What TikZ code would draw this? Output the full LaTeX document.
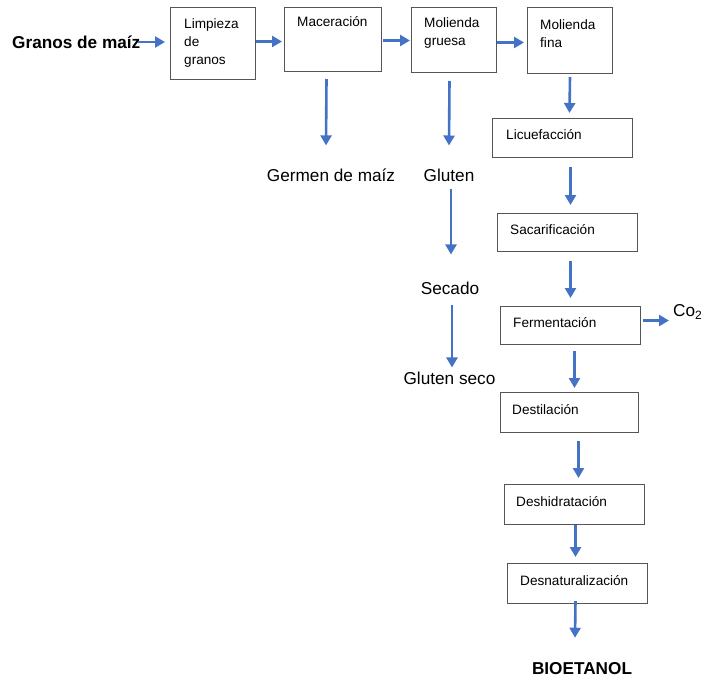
\documentclass[tikz,border=0pt]{standalone}
\usepackage{fontspec}
\setmainfont{Liberation Sans}
\usetikzlibrary{arrows.meta}
\definecolor{flowblue}{RGB}{68,114,196}
\definecolor{boxline}{RGB}{85,85,85}
\begin{document}
\begin{tikzpicture}[x=1pt,y=-1pt,
  box/.style={draw=boxline, line width=1pt, inner sep=0pt, anchor=north west},
  boxtext/.style={font=\fontsize{13.6}{18}\selectfont, anchor=west, inner sep=0pt, align=left},
  bigtext/.style={font=\fontsize{17.2}{20}\selectfont, inner sep=0pt},
  bigbold/.style={font=\bfseries\fontsize{17.2}{20}\selectfont, inner sep=0pt},
  arr/.style={draw=flowblue, line width=2.6pt, -{Triangle[length=10pt,width=11pt]}, flowblue}]
\useasboundingbox (0,0) rectangle (702,681);

% process boxes
\node[box, minimum width=85pt,  minimum height=72pt] (limp) at (170,7)   {};
\node[box, minimum width=97pt,  minimum height=64pt] (mac)  at (284,7)   {};
\node[box, minimum width=85pt,  minimum height=65pt] (mg)   at (411,7)   {};
\node[box, minimum width=85pt,  minimum height=66pt] (mf)   at (527,7)   {};
\node[box, minimum width=140pt, minimum height=39pt] (licu) at (492,118) {};
\node[box, minimum width=140pt, minimum height=38pt] (sac)  at (497,213) {};
\node[box, minimum width=140pt, minimum height=38pt] (ferm) at (500,306) {};
\node[box, minimum width=138pt, minimum height=40pt] (dest) at (500,392) {};
\node[box, minimum width=140pt, minimum height=40pt] (desh) at (504,484) {};
\node[box, minimum width=140pt, minimum height=40pt] (desn) at (507,563) {};

% box labels
\node[boxtext] (tlimp) at (184,43)   {Limpieza\\de\\granos};
\node[boxtext] (tmac)  at (297,22)   {Maceración};
\node[boxtext] (tmg)   at (424,33)   {Molienda\\gruesa};
\node[boxtext] (tmf)   at (540,33.5) {Molienda\\fina};
\node[boxtext] (tlicu) at (506,135)  {Licuefacción};
\node[boxtext] (tsac)  at (510,230)  {Sacarificación};
\node[boxtext] (tferm) at (513,323)  {Fermentación};
\node[boxtext] (tdest) at (512,410)  {Destilación};
\node[boxtext] (tdesh) at (516,502)  {Deshidratación};
\node[boxtext] (tdesn) at (520,581)  {Desnaturalización};

% free texts
\node[bigbold, anchor=west] (granos) at (12,42) {Granos de maíz};
\node[bigtext] (germen) at (331,175) {Germen de maíz};
\node[bigtext] (gluten) at (449,175) {Gluten};
\node[bigtext] (secado) at (450,288) {Secado};
\node[bigtext] (gseco)  at (449.5,378) {Gluten seco};
\node[bigtext, anchor=west] (co) at (673,312) {Co\textsubscript{2}};
\node[bigbold] (bio) at (582,669) {BIOETANOL};

% main line
\draw[arr] ([xshift=-2pt]granos.east) -- ([xshift=-5pt]granos.east -| limp.west);
\draw[arr] ([yshift=2pt]limp.east) -- ([xshift=-2pt,yshift=2pt]limp.east -| mac.west);
\draw[arr] ([xshift=1pt,yshift=-1pt]mac.east) -- ([xshift=-1pt,yshift=-1pt]mac.east -| mg.west);
\draw[arr] ([yshift=-2.5pt]mg.east) -- ([xshift=-3pt,yshift=-2.5pt]mg.east -| mf.west);

% by-products
\draw[arr] ([xshift=-6.5pt,yshift=-7pt]mac.south) -- ([xshift=-5pt,yshift=23pt]germen.north);
\draw[arr] ([xshift=-4.5pt,yshift=-8pt]mg.south) -- ([yshift=23pt]gluten.north);
\draw[arr] ([xshift=2pt,yshift=-7pt]gluten.south) -- ([xshift=1pt,yshift=27pt]secado.north);
\draw[arr] ([xshift=2pt,yshift=-10pt]secado.south) -- ([xshift=2.5pt,yshift=4pt]gseco.north);

% ethanol line
\draw[arr] ([yshift=-3pt]mf.south) -- ([xshift=7pt,yshift=5pt]licu.north);
\draw[arr] ([xshift=8pt,yshift=-9pt]licu.south) -- ([xshift=3pt,yshift=8pt]sac.north);
\draw[arr] ([xshift=3pt,yshift=-9pt]sac.south) -- ([yshift=8pt]ferm.north);
\draw[arr] ([xshift=4pt,yshift=-6pt]ferm.south) -- ([xshift=5pt,yshift=4pt]dest.north);
\draw[arr] ([xshift=9pt,yshift=-8pt]dest.south) -- ([xshift=4pt,yshift=6pt]desh.north);
\draw[arr] ([xshift=1pt]desh.south) -- ([xshift=-2pt,yshift=6pt]desn.north);
\draw[arr] ([xshift=-2pt,yshift=3pt]desn.south) -- ([xshift=-7pt,yshift=25pt]bio.north);
\draw[arr] ([xshift=2pt,yshift=5pt]ferm.east) -- ([xshift=-4pt,yshift=5pt]ferm.east -| co.west);
\end{tikzpicture}
\end{document}
